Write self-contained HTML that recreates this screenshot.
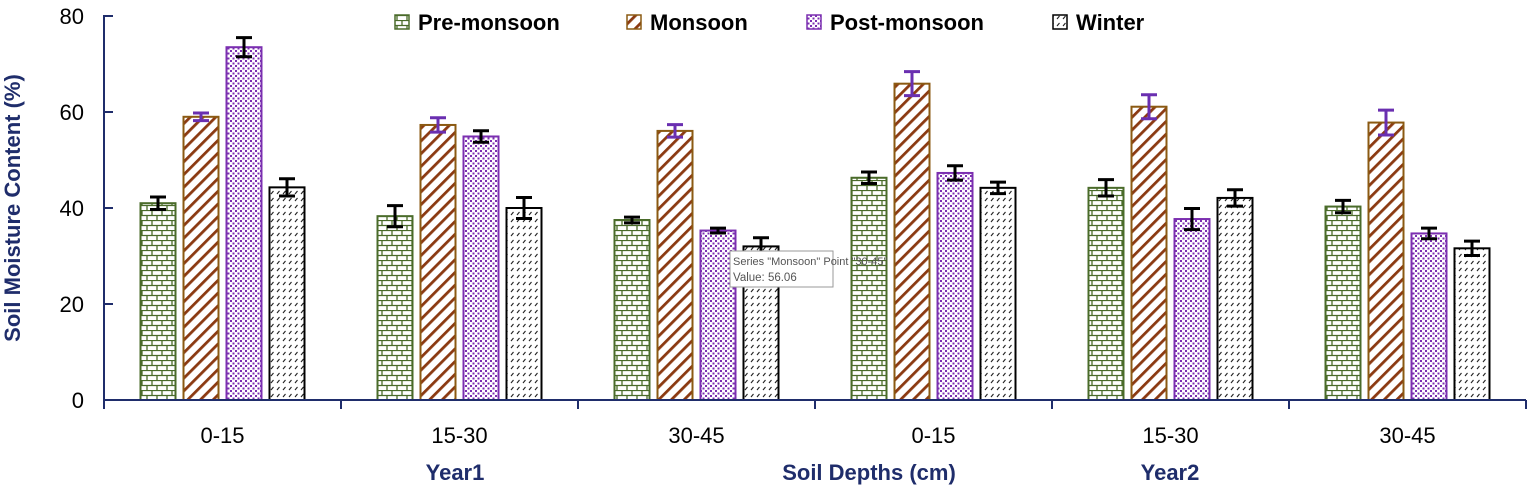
<!DOCTYPE html>
<html><head><meta charset="utf-8"><style>
body{margin:0;background:#fff;}
svg{display:block;font-family:"Liberation Sans",sans-serif;}
</style></head><body>
<svg id="chart" width="1535" height="494" viewBox="0 0 1535 494">
<defs>
<pattern id="pBrick" width="10" height="10" patternUnits="userSpaceOnUse">
<rect width="10" height="10" fill="#fff"/><path d="M0 0.5H10M0 5.5H10M2 0V5M7 5V10" stroke="#4a6b2a" stroke-width="1.3"/></pattern>
<pattern id="pDiag" width="9" height="9" patternUnits="userSpaceOnUse" patternTransform="rotate(45)">
<rect width="9" height="9" fill="#fff"/><rect x="0" width="2.8" height="9" fill="#8b3a12"/></pattern>
<pattern id="pDot" width="5" height="5" patternUnits="userSpaceOnUse">
<rect width="5" height="5" fill="#fff"/><rect x="0" y="0" width="2" height="2" fill="#7b2fb0"/><rect x="2.5" y="2.5" width="2" height="2" fill="#7b2fb0"/></pattern>
<pattern id="pWin" width="6" height="7" patternUnits="userSpaceOnUse">
<rect width="6" height="7" fill="#fff"/><path d="M1 5L3.5 2" stroke="#222" stroke-width="1.1"/></pattern>
</defs>
<g id="bars"></g>
<g id="axes"></g>
<g font-weight="bold" font-size="22" fill="#000">
<g><rect x="395" y="15" width="14" height="14" fill="url(#pBrick)" stroke="#4a6b2a" stroke-width="1.5"/><text x="418" y="30">Pre-monsoon</text></g>
<g><rect x="627" y="15" width="14" height="14" fill="url(#pDiag)" stroke="#8b5a12" stroke-width="1.5"/><text x="650" y="30">Monsoon</text></g>
<g><rect x="807" y="15" width="14" height="14" fill="url(#pDot)" stroke="#7b2fb0" stroke-width="1.5"/><text x="830" y="30">Post-monsoon</text></g>
<g><rect x="1053" y="15" width="14" height="14" fill="url(#pWin)" stroke="#000" stroke-width="1.5"/><text x="1076" y="30">Winter</text></g>
</g>
<text transform="translate(20,208) rotate(-90)" text-anchor="middle" font-size="22" font-weight="bold" fill="#1f2d6b">Soil Moisture Content (%)</text>
<text x="869" y="480" text-anchor="middle" font-size="22" font-weight="bold" fill="#1f2d6b">Soil Depths (cm)</text>
<text x="455" y="480" text-anchor="middle" font-size="22" font-weight="bold" fill="#1f2d6b">Year1</text>
<text x="1170" y="480" text-anchor="middle" font-size="22" font-weight="bold" fill="#1f2d6b">Year2</text>
<g>
<rect x="730" y="251" width="103" height="36" fill="#fff" stroke="#999" stroke-width="1"/>
<text x="733" y="265" font-size="11" fill="#555">Series "Monsoon" Point "30-45"</text>
<text x="733" y="281" font-size="11.5" fill="#555">Value: 56.06</text>
</g>
</svg>
<script>
const categories=["0-15","15-30","30-45","0-15","15-30","30-45"];
const seriesNames=["Pre-monsoon","Monsoon","Post-monsoon","Winter"];
const preMonsoon=[41,38.3,37.5,46.3,44.2,40.3];
const monsoon=[59,57.3,56.06,65.9,61.1,57.8];
const postMonsoon=[73.5,54.9,35.3,47.3,37.7,34.7];
const winter=[44.3,40,32,44.2,42.1,31.6];
const preErr=[1.3,2.2,0.6,1.2,1.7,1.3];
const monErr=[0.8,1.5,1.3,2.5,2.5,2.6];
const postErr=[2,1.2,0.5,1.5,2.2,1.1];
const winErr=[1.8,2.2,1.8,1.2,1.7,1.5];
const yTicks=[0,20,40,60,80];
const NS="http://www.w3.org/2000/svg";
const x0=104,x1=1526,yBase=400,yTop=16;
const gw=(x1-x0)/categories.length;
const y=v=>yBase-(v/80)*(yBase-yTop);
const fills=["url(#pBrick)","url(#pDiag)","url(#pDot)","url(#pWin)"];
const strokes=["#4a6b2a","#8b5a12","#7b2fb0","#000"];
const errCol=["#000","#6a2fb0","#000","#000"];
const vals=[preMonsoon,monsoon,postMonsoon,winter];
const errs=[preErr,monErr,postErr,winErr];
function mk(t,a,p){const e=document.createElementNS(NS,t);for(const k in a)e.setAttribute(k,a[k]);p.appendChild(e);return e;}
const bars=document.getElementById('bars'),axes=document.getElementById('axes');
const bw=35,pitch=43;
categories.forEach((c,i)=>{
  const cx=x0+gw*(i+0.5);
  vals.forEach((arr,s)=>{
    const bx=cx-1.5*pitch+s*pitch-bw/2;
    const r=mk('rect',{x:bx,y:y(arr[i]),width:bw,height:yBase-y(arr[i]),fill:fills[s],stroke:strokes[s],'stroke-width':2},bars);
    
    
    const ex=bx+bw/2,yt=y(arr[i]+errs[s][i]),yb=y(arr[i]-errs[s][i]);
    const g=mk('path',{d:`M${ex} ${yt}V${yb}M${ex-8} ${yt}H${ex+8}M${ex-8} ${yb}H${ex+8}`,stroke:errCol[s],'stroke-width':3,fill:'none'},bars);
    
    
  });
  const t=mk('text',{x:cx,y:443,'text-anchor':'middle','font-size':22,fill:'#000'},axes);
  t.textContent=c;
  
  
});
const ya=mk('path',{d:`M${x0} ${yTop}V${yBase+8}`,stroke:'#1f2d6b','stroke-width':2},axes);


const xa=mk('path',{d:`M${x0} ${yBase}H${x1}`,stroke:'#1f2d6b','stroke-width':2},axes);


for(let i=0;i<=categories.length;i++){
  const tx=x0+gw*i;
  const tk=mk('path',{d:`M${tx} ${yBase}V${yBase+9}`,stroke:'#1f2d6b','stroke-width':2},axes);
  
  
}
yTicks.forEach(v=>{
  const tk=mk('path',{d:`M${x0-1} ${y(v)}H${x0+9}`,stroke:'#1f2d6b','stroke-width':2},axes);
  
  
  const t=mk('text',{x:x0-20,y:y(v)+8,'text-anchor':'end','font-size':22,fill:'#000'},axes);
  t.textContent=v;
  
  
});
</script>
</body></html>
